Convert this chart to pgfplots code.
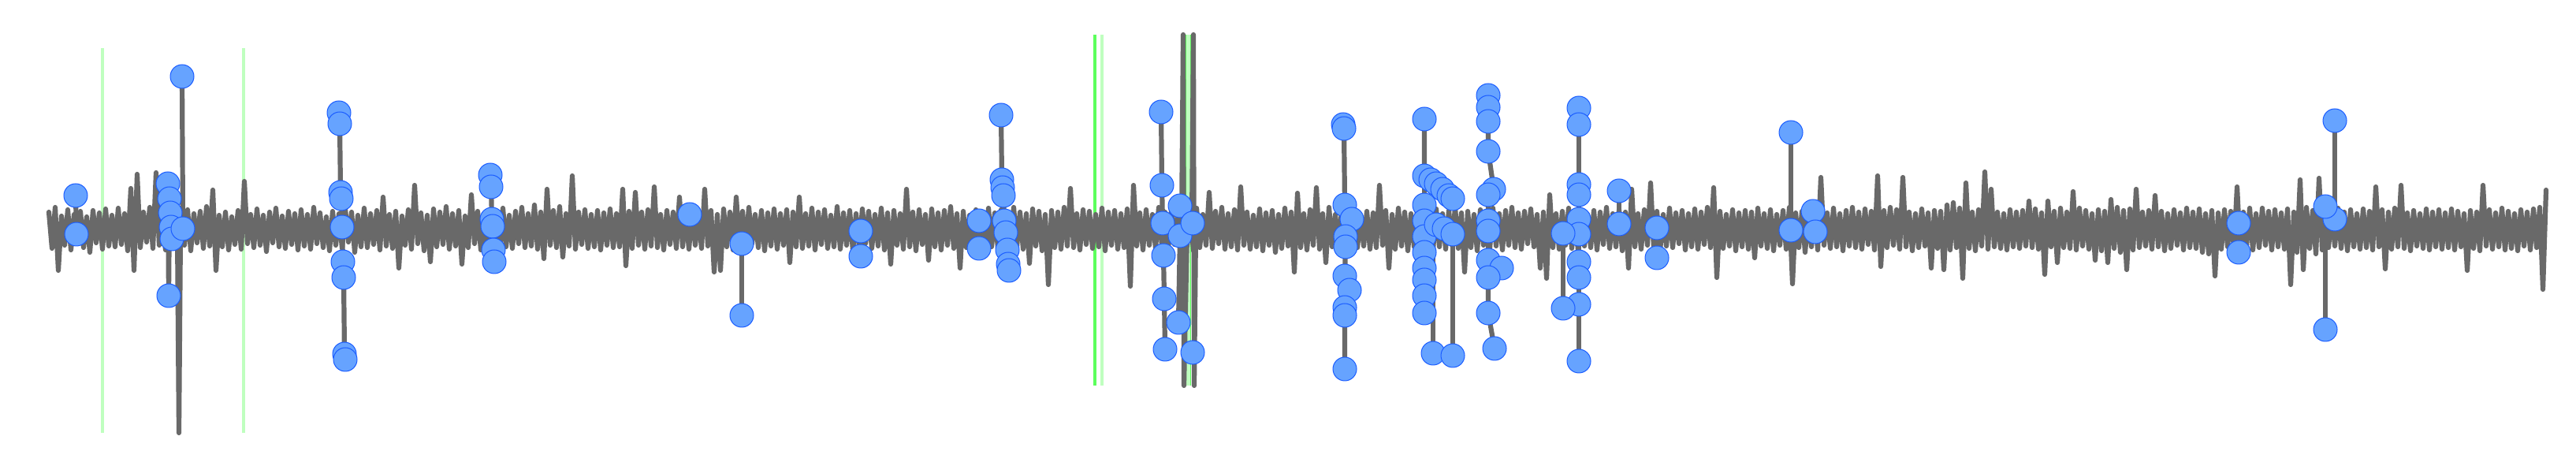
\documentclass[border=0pt]{standalone}
\usepackage{pgfplots}
\pgfplotsset{compat=1.18}
\definecolor{sgray}{HTML}{696969}
\definecolor{mblue}{HTML}{66A3FF}
\definecolor{medge}{HTML}{1A5CFF}
\definecolor{pgreen}{HTML}{BFFFBF}
\definecolor{bgreen}{HTML}{5CFF5C}
\begin{document}
\begin{tikzpicture}
\begin{axis}[scale only axis, width=326.8mm, height=57.2mm,
  xmin=0, xmax=3268, ymin=-282, ymax=290, hide axis, clip=false,
  stem/.style={sgray, line width=0.62mm, line cap=round, line join=round, mark=none}]
% event lines
\addplot[pgreen, line width=0.4mm] coordinates {(130,229) (130,-259)};
\addplot[pgreen, line width=0.4mm] coordinates {(309,229) (309,-259)};
\addplot[bgreen, line width=0.45mm] coordinates {(1389,246) (1389,-199)};
\addplot[pgreen, line width=0.45mm] coordinates {(1398,246) (1398,-199)};
\addplot[bgreen, line width=0.75mm] coordinates {(1507.5,246) (1507.5,-199)};
\addplot[pgreen, line width=0.55mm] coordinates {(1507.5,246) (1507.5,-199)};
% signal
\addplot[stem] coordinates {
(62,21)(66,-25)(70,27)(74,-53)(78,16)(82,-21)(86,24)(90,-27)(94,18)(98,-19)(102,22)(106,-24)(110,15)(114,-30)(118,23)(122,-18)(126,20)(130,-26)(134,25)(138,-22)
(142,17)(146,-23)(150,26)(154,-20)(158,19)(162,-28)(166,51)(170,-53)(174,69)(178,-24)(182,21)(186,-17)(190,27)(194,-25)(198,71)(202,-21)(206,18)(210,-27)(214,23)(218,-19)
(222,20)(226,-24)(230,16)(234,-21)(238,24)(242,-28)(246,19)(250,-18)(254,22)(258,-25)(262,28)(266,-22)(270,49)(274,-53)(278,17)(282,-23)(286,21)(290,-27)(294,15)(298,-20)
(302,23)(306,-26)(310,60)(314,-19)(318,18)(322,-24)(326,25)(330,-21)(334,17)(338,-29)(342,21)(346,-18)(350,26)(354,-23)(358,16)(362,-25)(366,22)(370,-20)(374,19)(378,-27)
(382,24)(386,-22)(390,18)(394,-26)(398,27)(402,-19)(406,20)(410,-24)(414,15)(418,-28)(422,22)(426,-21)(430,19)(434,-25)(438,25)(442,-17)(446,21)(450,-30)(454,17)(458,-23)
(462,26)(466,-24)(470,19)(474,-20)(478,23)(482,-27)(486,40)(490,-22)(494,18)(498,-25)(502,22)(506,-50)(510,16)(514,-21)(518,24)(522,-26)(526,55)(530,-19)(534,20)(538,-28)
(542,17)(546,-42)(550,25)(554,-23)(558,21)(562,-20)(566,28)(570,-26)(574,19)(578,-22)(582,23)(586,-45)(590,16)(594,-24)(598,43)(602,-19)(606,22)(610,-27)(614,18)(618,-23)
(622,24)(626,-21)(630,20)(634,-28)(638,26)(642,-23)(646,17)(650,-25)(654,22)(658,-19)(662,27)(666,-24)(670,19)(674,-22)(678,30)(682,-26)(686,21)(690,-38)(694,50)(698,-21)
(702,23)(706,-24)(710,28)(714,-36)(718,19)(722,-22)(726,67)(730,-26)(734,21)(738,-20)(742,24)(746,-25)(750,18)(754,-23)(758,23)(762,-27)(766,20)(770,-21)(774,25)(778,-24)
(782,19)(786,-23)(790,50)(794,-47)(798,22)(802,-25)(806,46)(810,-21)(814,21)(818,-26)(822,24)(826,-22)(830,53)(834,-24)(838,18)(842,-27)(846,23)(850,-20)(854,21)(858,-25)
(862,40)(866,-23)(870,20)(874,-26)(878,24)(882,-21)(886,19)(890,-25)(894,50)(898,-22)(902,23)(906,-55)(910,18)(914,-53)(918,25)(922,-23)(926,21)(930,-27)(934,40)(938,-21)
(942,22)(946,-25)(950,27)(954,-19)(958,18)(962,-24)(966,23)(970,-28)(974,20)(978,-22)(982,25)(986,-26)(990,19)(994,-21)(998,24)(1002,-43)(1006,21)(1010,-23)(1014,40)(1018,-25)
(1022,19)(1026,-22)(1030,26)(1034,-27)(1038,21)(1042,-20)(1046,24)(1050,-25)(1054,17)(1058,-23)(1062,28)(1066,-26)(1070,20)(1074,-21)(1078,23)(1082,-28)(1086,19)(1090,-24)(1094,25)(1098,-19)
(1102,22)(1106,-25)(1110,18)(1114,-22)(1118,26)(1122,-27)(1126,20)(1130,-45)(1134,23)(1138,-21)(1142,19)(1146,-26)(1150,50)(1154,-23)(1158,21)(1162,-28)(1166,24)(1170,-20)(1174,18)(1178,-40)
(1182,25)(1186,-23)(1190,20)(1194,-27)(1198,23)(1202,-21)(1206,28)(1210,-25)(1214,19)(1218,-50)(1222,22)(1226,-24)(1230,17)(1234,-26)(1238,24)(1242,-22)(1246,21)(1250,-28)(1254,26)(1258,-23)
(1262,20)(1266,-25)(1270,24)(1274,-21)(1278,18)(1282,-27)(1286,27)(1290,-23)(1294,21)(1298,-26)(1302,19)(1306,-44)(1310,25)(1314,-22)(1318,22)(1322,-28)(1326,18)(1330,-71)(1334,23)(1338,-24)
(1342,21)(1346,-26)(1350,27)(1354,-22)(1358,51)(1362,-24)(1366,19)(1370,-27)(1374,24)(1378,-20)(1382,22)(1386,-25)(1390,18)(1394,-23)(1398,26)(1402,-28)(1406,21)(1410,-21)(1414,23)(1418,-26)
(1422,19)(1426,-24)(1430,25)(1434,-73)(1438,55)(1442,-22)(1446,20)(1450,-27)(1454,24)(1458,-21)(1462,18)(1466,-25)(1470,27)(1474,-23)(1478,21)(1482,-26)(1486,23)(1490,-20)(1494,19)(1498,-27)
(1502,24)(1506,-22)(1510,20)(1514,-28)(1518,26)(1522,-24)(1526,18)(1530,-21)(1534,46)(1538,-25)(1542,22)(1546,-19)(1550,27)(1554,-26)(1558,19)(1562,-23)(1566,24)(1570,-27)(1574,53)(1578,-21)
(1582,21)(1586,-26)(1590,17)(1594,-23)(1598,25)(1602,-28)(1606,20)(1610,-21)(1614,23)(1618,-30)(1622,18)(1626,-25)(1630,26)(1634,-22)(1638,21)(1642,-55)(1646,45)(1650,-24)(1654,19)(1658,-27)
(1662,24)(1666,-21)(1670,52)(1674,-26)(1678,19)(1682,-43)(1686,27)(1690,-23)(1694,18)(1698,-25)(1702,23)(1706,-28)(1710,21)(1714,-20)(1718,25)(1722,-24)(1726,17)(1730,-22)(1734,22)(1738,-26)
(1742,20)(1746,-24)(1750,55)(1754,-21)(1758,23)(1762,-50)(1766,18)(1770,-26)(1774,26)(1778,-22)(1782,21)(1786,-28)(1790,19)(1794,-23)(1798,24)(1802,-25)(1806,22)(1810,-20)(1814,18)(1818,-27)
(1822,25)(1826,-23)(1830,19)(1834,-26)(1838,23)(1842,-21)(1846,27)(1850,-25)(1854,20)(1858,-55)(1862,22)(1866,-24)(1870,18)(1874,-28)(1878,24)(1882,-21)(1886,21)(1890,-25)(1894,26)(1898,-22)
(1902,19)(1906,-27)(1910,23)(1914,-21)(1918,27)(1922,-24)(1926,20)(1930,-26)(1934,22)(1938,-19)(1942,25)(1946,-23)(1950,18)(1954,-50)(1958,21)(1962,-63)(1966,43)(1970,-24)(1974,19)(1978,-26)
(1982,22)(1986,-21)(1990,26)(1994,-25)(1998,20)(2002,-28)(2006,24)(2010,-22)(2014,18)(2018,-24)(2022,23)(2026,-27)(2030,21)(2034,-20)(2038,27)(2042,-25)(2046,19)(2050,-23)(2054,24)(2058,-28)
(2062,21)(2066,-50)(2070,50)(2074,-23)(2078,19)(2082,-26)(2086,24)(2090,-21)(2094,58)(2098,-25)(2102,22)(2106,-28)(2110,18)(2114,-22)(2118,26)(2122,-24)(2126,20)(2130,-19)(2134,23)(2138,-27)
(2142,19)(2146,-23)(2150,25)(2154,-26)(2158,21)(2162,-20)(2166,27)(2170,-24)(2174,52)(2178,-62)(2182,22)(2186,-25)(2190,18)(2194,-22)(2198,24)(2202,-28)(2206,20)(2210,-23)(2214,23)(2218,-26)
(2222,21)(2226,-37)(2230,26)(2234,-22)(2238,19)(2242,-25)(2246,24)(2250,-28)(2254,18)(2258,-21)(2262,23)(2266,-26)(2270,27)(2274,-70)(2278,20)(2282,-24)(2286,22)(2290,-30)(2294,19)(2298,-23)
(2302,24)(2306,-27)(2310,65)(2314,-21)(2318,20)(2322,-25)(2326,26)(2330,-23)(2334,19)(2338,-28)(2342,23)(2346,-22)(2350,27)(2354,-24)(2358,21)(2362,-26)(2366,25)(2370,-20)(2374,22)(2378,-27)
(2382,67)(2386,-48)(2390,23)(2394,-24)(2398,27)(2402,-21)(2406,24)(2410,-26)(2414,65)(2418,-23)(2422,21)(2426,-28)(2430,19)(2434,-24)(2438,25)(2442,-22)(2446,20)(2450,-50)(2454,23)(2458,-25)
(2462,22)(2466,-52)(2470,30)(2474,-27)(2478,33)(2482,-24)(2486,26)(2490,-63)(2494,58)(2498,-25)(2502,21)(2506,-28)(2510,24)(2514,-22)(2518,72)(2522,-26)(2526,50)(2530,-23)(2534,21)(2538,-25)
(2542,19)(2546,-27)(2550,24)(2554,-23)(2558,21)(2562,-25)(2566,23)(2570,-22)(2574,35)(2578,-24)(2582,25)(2586,-26)(2590,20)(2594,-58)(2598,35)(2602,-23)(2606,22)(2610,-43)(2614,26)(2618,-24)
(2622,21)(2626,-25)(2630,47)(2634,-27)(2638,26)(2642,-22)(2646,23)(2650,-26)(2654,19)(2658,-40)(2662,24)(2666,-28)(2670,22)(2674,-43)(2678,37)(2682,-25)(2686,27)(2690,-30)(2694,23)(2698,-52)
(2702,25)(2706,-27)(2710,50)(2714,-24)(2718,21)(2722,-22)(2726,23)(2730,-26)(2734,42)(2738,-23)(2742,22)(2746,-28)(2750,19)(2754,-25)(2758,24)(2762,-21)(2766,20)(2770,-27)(2774,26)(2778,-24)
(2782,21)(2786,-25)(2790,25)(2794,-30)(2798,19)(2802,-32)(2806,23)(2810,-60)(2814,20)(2818,-26)(2822,24)(2826,-23)(2830,22)(2834,-25)(2838,53)(2842,-28)(2846,21)(2850,-22)(2854,26)(2858,-27)
(2862,19)(2866,-24)(2870,26)(2874,-21)(2878,22)(2882,-27)(2886,24)(2890,-23)(2894,20)(2898,-26)(2902,25)(2906,-71)(2910,21)(2914,-30)(2918,62)(2922,-52)(2926,27)(2930,-25)(2934,23)(2938,-32)
(2942,64)(2946,-27)(2950,27)(2954,-24)(2958,23)(2962,-22)(2966,26)(2970,-25)(2974,21)(2978,-28)(2982,24)(2986,-23)(2990,19)(2994,-26)(2998,25)(3002,-24)(3006,22)(3010,-27)(3014,53)(3018,-23)
(3022,24)(3026,-51)(3030,21)(3034,-26)(3038,26)(3042,-23)(3046,55)(3050,-25)(3054,20)(3058,-28)(3062,23)(3066,-22)(3070,19)(3074,-25)(3078,25)(3082,-27)(3086,21)(3090,-23)(3094,24)(3098,-26)
(3102,20)(3106,-24)(3110,25)(3114,-27)(3118,22)(3122,-23)(3126,19)(3130,-53)(3134,23)(3138,-25)(3142,21)(3146,-28)(3150,55)(3154,-22)(3158,24)(3162,-26)(3166,20)(3170,-23)(3174,26)(3178,-27)
(3182,22)(3186,-25)(3190,19)(3194,-28)(3198,24)(3202,-22)(3206,21)(3210,-27)(3214,25)(3218,-24)(3222,27)(3226,-77)(3230,49)
};
% anomaly excursions of the signal
\addplot[stem] coordinates {(96,42)(97,-7)};
\addplot[stem] coordinates {(212,5)(213,57)(214,-85)(215,38)(216,20)(217,2)(218,-13)};
\addplot[stem] coordinates {(225,0)(227,-259)(229,0)};
\addplot[stem] coordinates {(231,193)(232,0)};
\addplot[stem] coordinates {(430,147)(431,133)(432,46)(433,38)(434,2)(435,-42)(436,-62)(437,-159)(438,-166)};
\addplot[stem] coordinates {(622,68)(623,53)(624,12)(625,3)(626,-27)(627,-42)};
\addplot[stem] coordinates {(941,-19)(941,-110)};
\addplot[stem] coordinates {(1092,-3)(1092,-35)};
\addplot[stem] coordinates {(1242,10)(1242,-25)};
\addplot[stem] coordinates {(1270,144)(1271,62)(1272,52)(1273,42)(1274,10)(1276,-5)(1278,-27)(1279,-45)(1280,-53)};
\addplot[stem] coordinates {(1473,148)(1474,55)(1475,7)(1476,-34)(1477,-89)(1478,-153)};
\addplot[stem] coordinates {(1494,0)(1497,29)(1497,-9)(1495,-119)(1499,0)(1501,246)(1502,-199)(1506,0)(1512,7)(1514,246)(1515,-199)(1517,0)};
\addplot[stem] coordinates {(1704,132)(1705,127)(1706,30)(1715,12)(1707,-10)(1707,-23)(1706,-60)(1712,-78)(1706,-100)(1706,-110)(1706,-178)};
\addplot[stem] coordinates {(1807,139)(1807,67)(1815,62)(1822,57)(1830,50)(1838,42)(1843,38)};
\addplot[stem] coordinates {(1807,67)(1807,30)(1807,10)(1807,-10)(1807,-30)(1807,-50)(1807,-65)(1807,-85)(1807,-107)};
\addplot[stem] coordinates {(1807,10)(1822,5)(1832,0)(1843,-7)};
\addplot[stem] coordinates {(1818,0)(1818,-158)};
\addplot[stem] coordinates {(1843,0)(1843,-161)};
\addplot[stem] coordinates {(1888,169)(1888,154)(1888,136)(1888,98)(1895,50)(1888,43)(1888,10)(1888,-3)(1888,-40)(1905,-50)(1888,-62)(1888,-107)(1896,-152)};
\addplot[stem] coordinates {(2003,153)(2003,132)(2003,56)(2003,43)(2003,12)(2003,-7)(2003,-42)(2003,-62)(2003,-96)(2003,-168)};
\addplot[stem] coordinates {(1983,-6)(1983,-101)};
\addplot[stem] coordinates {(2054,48)(2054,6)};
\addplot[stem] coordinates {(2102,1)(2102,-37)};
\addplot[stem] coordinates {(2272,122)(2272,-2)};
\addplot[stem] coordinates {(2300,22)(2303,-4)};
\addplot[stem] coordinates {(2840,7)(2840,-30)};
\addplot[stem] coordinates {(2962,137)(2962,12)};
\addplot[stem] coordinates {(2950,28)(2950,-128)};
% anomaly markers
\addplot[only marks, mark=*, mark size=1.5mm, mark options={fill=mblue, draw=medge, line width=0.1mm}] coordinates {
(96,42)(97,-7)
(213,57)(214,-85)(215,38)(216,20)(217,2)(218,-13)(231,193)(232,0)
(430,147)(431,133)(432,46)(433,38)(434,2)(435,-42)(436,-62)(437,-159)(438,-166)
(622,68)(623,53)(624,12)(625,3)(626,-27)(627,-42)
(875,18)
(941,-19)(941,-110)
(1092,-3)(1092,-35)
(1242,10)(1242,-25)
(1270,144)(1271,62)(1272,52)(1273,42)(1274,10)(1276,-5)(1278,-27)(1279,-45)(1280,-53)
(1473,148)(1474,55)(1475,7)(1476,-34)(1477,-89)(1478,-153)
(1497,29)(1497,-9)(1495,-119)(1513,7)(1513,-157)
(1704,132)(1705,127)(1706,30)(1715,12)(1707,-10)(1707,-23)(1706,-60)(1712,-78)(1706,-100)(1706,-110)(1706,-178)
(1807,139)(1807,67)(1815,62)(1822,57)(1830,50)(1838,42)(1843,38)
(1807,30)(1807,10)(1807,-10)(1807,-30)(1807,-50)(1807,-65)(1807,-85)(1807,-107)
(1822,5)(1832,0)(1843,-7)(1818,-158)(1843,-161)
(1888,169)(1888,154)(1888,136)(1888,98)(1895,50)(1888,43)(1888,10)(1888,-3)(1888,-40)(1905,-50)(1888,-62)(1888,-107)(1896,-152)
(2003,153)(2003,132)(2003,56)(2003,43)(2003,12)(2003,-7)(2003,-42)(2003,-62)(2003,-96)(2003,-168)
(1983,-6)(1983,-101)
(2054,48)(2054,6)(2102,1)(2102,-37)(2272,122)(2272,-2)(2300,22)(2303,-4)
(2840,7)(2840,-30)
(2962,137)(2962,12)(2950,28)(2950,-128)
};
\path (rel axis cs:0,0) rectangle (rel axis cs:1,1);
\end{axis}
\end{tikzpicture}
\end{document}
